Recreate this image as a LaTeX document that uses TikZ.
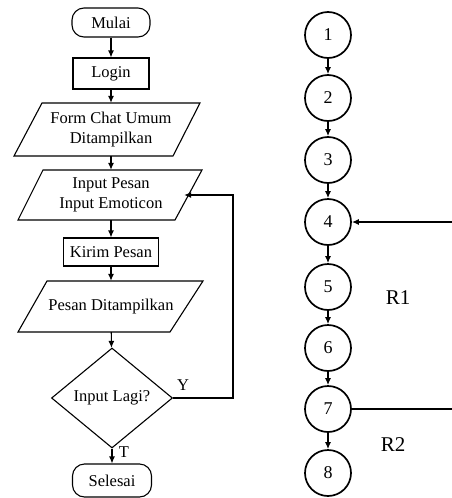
\documentclass[tikz,border=0pt]{standalone}
\usepackage{fontspec}
\setmainfont{Liberation Serif}
\usetikzlibrary{arrows.meta,shapes.geometric}
\begin{document}
\begin{tikzpicture}[x=1pt,y=-1pt,
  every node/.style={font=\fontsize{16.5}{20}\selectfont},
  term/.style={draw,line width=1.1pt,rounded corners=12pt,minimum width=#1,minimum height=31pt,inner sep=0pt},
  proc/.style={draw,line width=1.1pt,minimum height=30pt,inner sep=0pt},
  iotext/.style={inner sep=0pt,align=center},
  dec/.style={draw,line width=1.1pt,shape=diamond,shape aspect=1.2,minimum width=121pt,minimum height=100pt,inner sep=0pt},
  flow/.style={line width=1.1pt,-{Latex[length=7pt,width=6pt]}},
  flowline/.style={line width=1.1pt},
  circ/.style={draw,circle,line width=1.7pt,minimum size=46pt,inner sep=0pt,font=\fontsize{18}{20}\selectfont},
  garrow/.style={line width=1.5pt,-{Latex[length=7pt,width=6pt]}},
  gline/.style={line width=1.5pt},
  rlabel/.style={font=\fontsize{21}{24}\selectfont}
]
\useasboundingbox (0,0) rectangle (452,498);
% ---------- flowchart ----------
\node[term=78pt,minimum height=29pt] (mulai) at (111,22.5) {Mulai};
\node[proc,minimum width=76pt,minimum height=31pt] (login) at (111,73.5) {Login};
\node[iotext,minimum height=53pt,minimum width=140pt] (form) at (111,129.5) {Form Chat Umum\\Ditampilkan};
\draw[flowline] (form.center) +(-69,-26.5) -- +(89,-26.5) -- +(62,26.5) -- +(-97,26.5) -- cycle;
\node[iotext,minimum height=50pt,minimum width=146pt] (input) at (111,195) {Input Pesan\\Input Emoticon};
\draw[flowline] (input.center) +(-68,-25) -- +(91,-25) -- +(64,25) -- +(-93,25) -- cycle;
\node[proc,minimum width=95pt,minimum height=28pt] (kirim) at (111,252) {Kirim Pesan};
\node[iotext,minimum height=51pt,minimum width=140pt] (tampil) at (111,306.5) {Pesan Ditampilkan};
\draw[flowline] (tampil.center) +(-64,-25.5) -- +(92,-25.5) -- +(59,25.5) -- +(-93,25.5) -- cycle;
\node[dec] (lagi) at (112,398) {Input Lagi?};
\node[term=79pt,minimum height=33pt] (selesai) at (112,480.5) {Selesai};
\coordinate (loopA) at (233,398);
\coordinate (loopB) at (233,195);
\draw[flow] (mulai) -- (login);
\draw[flow] (login) -- (form);
\draw[flow] (form) -- (input);
\draw[flow] (input) -- (kirim);
\draw[flow] (kirim) -- (tampil);
\draw[flow] (tampil) -- (lagi);
\draw[flow] (lagi) -- (selesai);
\draw[flow] (lagi.east) -- (loopA) -- (loopB) -- (input.east);
\node (ylab) at (183,385) {Y};
\node (tlab) at (124,452) {T};
% ---------- flow graph ----------
\node[circ] (n1) at (328,35) {1};
\node[circ] (n2) at (328,98) {2};
\node[circ] (n3) at (328,160) {3};
\node[circ] (n4) at (328,222) {4};
\node[circ] (n5) at (328,287) {5};
\node[circ] (n6) at (328,348) {6};
\node[circ] (n7) at (328,409) {7};
\node[circ] (n8) at (328,473) {8};
\draw[garrow] (n1) -- (n2);
\draw[garrow] (n2) -- (n3);
\draw[garrow] (n3) -- (n4);
\draw[garrow] (n4) -- (n5);
\draw[garrow] (n5) -- (n6);
\draw[garrow] (n6) -- (n7);
\draw[garrow] (n7) -- (n8);
\coordinate (in4) at (452,222);
\coordinate (out7) at (452,409);
\draw[garrow] (in4) -- (n4.east);
\draw[gline] (n7.east) -- (out7);
\node[rlabel] (r1) at (398,298) {R1};
\node[rlabel] (r2) at (393,445) {R2};
\end{tikzpicture}
\end{document}
